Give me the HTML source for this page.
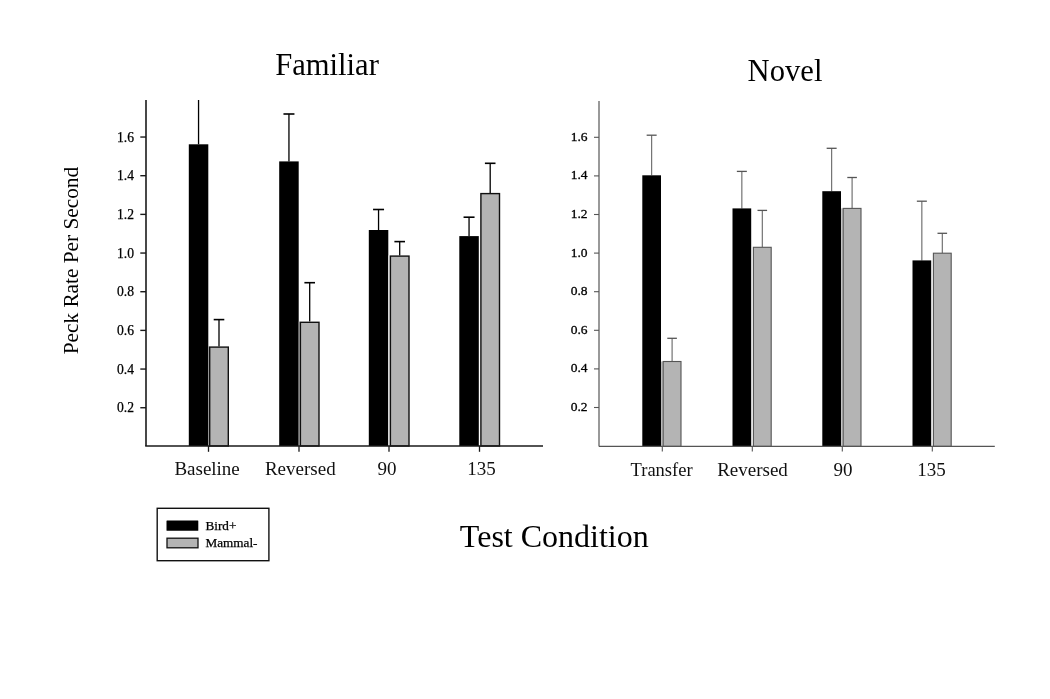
<!DOCTYPE html>
<html><head><meta charset="utf-8"><title>Peck Rate Per Second</title>
<style>html,body{margin:0;padding:0;background:#fff;}body{width:1050px;height:699px;overflow:hidden;}svg{display:block;}</style>
</head><body>
<svg width="1050" height="699" viewBox="0 0 1050 699" font-family='"Liberation Serif", "Times New Roman", serif'>
<rect x="0" y="0" width="1050" height="699" fill="#fff"/>
<line x1="198.55" y1="100.00" x2="198.55" y2="144.30" stroke="#000" stroke-width="1.3"/>
<rect x="188.80" y="144.30" width="19.50" height="301.70" fill="#000"/>
<rect x="208.30" y="346.40" width="0.70" height="99.60" fill="#8a8a8a"/>
<line x1="219.00" y1="319.60" x2="219.00" y2="346.40" stroke="#000" stroke-width="1.3"/>
<line x1="213.70" y1="319.60" x2="224.30" y2="319.60" stroke="#000" stroke-width="1.6"/>
<rect x="209.70" y="347.10" width="18.60" height="98.90" fill="#b4b4b4" stroke="#111" stroke-width="1.4"/>
<line x1="288.95" y1="114.00" x2="288.95" y2="161.40" stroke="#000" stroke-width="1.3"/>
<line x1="283.45" y1="114.00" x2="294.45" y2="114.00" stroke="#000" stroke-width="1.6"/>
<rect x="279.20" y="161.40" width="19.50" height="284.60" fill="#000"/>
<rect x="298.70" y="321.60" width="1.00" height="124.40" fill="#9a9a9a"/>
<line x1="309.70" y1="282.70" x2="309.70" y2="321.60" stroke="#000" stroke-width="1.3"/>
<line x1="304.40" y1="282.70" x2="315.00" y2="282.70" stroke="#000" stroke-width="1.6"/>
<rect x="300.40" y="322.30" width="18.60" height="123.70" fill="#b4b4b4" stroke="#111" stroke-width="1.4"/>
<line x1="378.55" y1="209.50" x2="378.55" y2="230.00" stroke="#000" stroke-width="1.3"/>
<line x1="373.05" y1="209.50" x2="384.05" y2="209.50" stroke="#000" stroke-width="1.6"/>
<rect x="368.80" y="230.00" width="19.50" height="216.00" fill="#000"/>
<rect x="388.30" y="255.40" width="1.40" height="190.60" fill="#e6e6e6"/>
<line x1="399.70" y1="241.60" x2="399.70" y2="255.40" stroke="#000" stroke-width="1.3"/>
<line x1="394.40" y1="241.60" x2="405.00" y2="241.60" stroke="#000" stroke-width="1.6"/>
<rect x="390.40" y="256.10" width="18.60" height="189.90" fill="#b4b4b4" stroke="#111" stroke-width="1.4"/>
<line x1="469.05" y1="217.20" x2="469.05" y2="236.10" stroke="#000" stroke-width="1.3"/>
<line x1="463.55" y1="217.20" x2="474.55" y2="217.20" stroke="#000" stroke-width="1.6"/>
<rect x="459.30" y="236.10" width="19.50" height="209.90" fill="#000"/>
<line x1="490.20" y1="163.30" x2="490.20" y2="192.90" stroke="#000" stroke-width="1.3"/>
<line x1="484.90" y1="163.30" x2="495.50" y2="163.30" stroke="#000" stroke-width="1.6"/>
<rect x="480.90" y="193.60" width="18.60" height="252.40" fill="#b4b4b4" stroke="#111" stroke-width="1.4"/>
<line x1="146.0" y1="100.0" x2="146.0" y2="446.0" stroke="#1a1a1a" stroke-width="1.6"/>
<line x1="145.2" y1="446.0" x2="543.0" y2="446.0" stroke="#1a1a1a" stroke-width="1.6"/>
<line x1="140.3" y1="407.73" x2="146.0" y2="407.73" stroke="#1a1a1a" stroke-width="1.4"/>
<text x="134" y="412.23" font-size="13.6" text-anchor="end" fill="#000" stroke="#000" stroke-width="0.25">0.2</text>
<line x1="140.3" y1="369.06" x2="146.0" y2="369.06" stroke="#1a1a1a" stroke-width="1.4"/>
<text x="134" y="373.56" font-size="13.6" text-anchor="end" fill="#000" stroke="#000" stroke-width="0.25">0.4</text>
<line x1="140.3" y1="330.39" x2="146.0" y2="330.39" stroke="#1a1a1a" stroke-width="1.4"/>
<text x="134" y="334.89" font-size="13.6" text-anchor="end" fill="#000" stroke="#000" stroke-width="0.25">0.6</text>
<line x1="140.3" y1="291.72" x2="146.0" y2="291.72" stroke="#1a1a1a" stroke-width="1.4"/>
<text x="134" y="296.22" font-size="13.6" text-anchor="end" fill="#000" stroke="#000" stroke-width="0.25">0.8</text>
<line x1="140.3" y1="253.05" x2="146.0" y2="253.05" stroke="#1a1a1a" stroke-width="1.4"/>
<text x="134" y="257.55" font-size="13.6" text-anchor="end" fill="#000" stroke="#000" stroke-width="0.25">1.0</text>
<line x1="140.3" y1="214.38" x2="146.0" y2="214.38" stroke="#1a1a1a" stroke-width="1.4"/>
<text x="134" y="218.88" font-size="13.6" text-anchor="end" fill="#000" stroke="#000" stroke-width="0.25">1.2</text>
<line x1="140.3" y1="175.71" x2="146.0" y2="175.71" stroke="#1a1a1a" stroke-width="1.4"/>
<text x="134" y="180.21" font-size="13.6" text-anchor="end" fill="#000" stroke="#000" stroke-width="0.25">1.4</text>
<line x1="140.3" y1="137.04" x2="146.0" y2="137.04" stroke="#1a1a1a" stroke-width="1.4"/>
<text x="134" y="141.54" font-size="13.6" text-anchor="end" fill="#000" stroke="#000" stroke-width="0.25">1.6</text>
<line x1="208.5" y1="446.0" x2="208.5" y2="451.8" stroke="#1a1a1a" stroke-width="1.3"/>
<line x1="299.0" y1="446.0" x2="299.0" y2="451.8" stroke="#1a1a1a" stroke-width="1.3"/>
<line x1="389.0" y1="446.0" x2="389.0" y2="451.8" stroke="#1a1a1a" stroke-width="1.3"/>
<line x1="479.5" y1="446.0" x2="479.5" y2="451.8" stroke="#1a1a1a" stroke-width="1.3"/>
<text x="207.1" y="475.3" font-size="19" text-anchor="middle" fill="#111">Baseline</text>
<text x="300.3" y="475.3" font-size="19" text-anchor="middle" fill="#111">Reversed</text>
<text x="386.9" y="475.3" font-size="19" text-anchor="middle" fill="#111">90</text>
<text x="481.5" y="475.3" font-size="19" text-anchor="middle" fill="#111">135</text>
<line x1="651.65" y1="135.20" x2="651.65" y2="175.30" stroke="#666" stroke-width="1.1"/>
<line x1="646.65" y1="135.20" x2="656.65" y2="135.20" stroke="#555" stroke-width="1.3"/>
<rect x="642.30" y="175.30" width="18.70" height="271.10" fill="#000"/>
<rect x="661.00" y="361.50" width="2.20" height="84.90" fill="#b8b8b8"/>
<line x1="672.10" y1="338.30" x2="672.10" y2="361.50" stroke="#666" stroke-width="1.1"/>
<line x1="667.30" y1="338.30" x2="676.90" y2="338.30" stroke="#555" stroke-width="1.3"/>
<rect x="663.20" y="361.50" width="17.80" height="84.90" fill="#b4b4b4" stroke="#555" stroke-width="1.1"/>
<line x1="741.85" y1="171.40" x2="741.85" y2="208.40" stroke="#666" stroke-width="1.1"/>
<line x1="736.85" y1="171.40" x2="746.85" y2="171.40" stroke="#555" stroke-width="1.3"/>
<rect x="732.50" y="208.40" width="18.70" height="238.00" fill="#000"/>
<line x1="762.30" y1="210.40" x2="762.30" y2="247.30" stroke="#666" stroke-width="1.1"/>
<line x1="757.50" y1="210.40" x2="767.10" y2="210.40" stroke="#555" stroke-width="1.3"/>
<rect x="753.40" y="247.30" width="17.80" height="199.10" fill="#b4b4b4" stroke="#555" stroke-width="1.1"/>
<line x1="831.65" y1="148.30" x2="831.65" y2="191.20" stroke="#666" stroke-width="1.1"/>
<line x1="826.65" y1="148.30" x2="836.65" y2="148.30" stroke="#555" stroke-width="1.3"/>
<rect x="822.30" y="191.20" width="18.70" height="255.20" fill="#000"/>
<rect x="841.00" y="208.40" width="2.20" height="238.00" fill="#c4c4c4"/>
<line x1="852.10" y1="177.50" x2="852.10" y2="208.40" stroke="#666" stroke-width="1.1"/>
<line x1="847.30" y1="177.50" x2="856.90" y2="177.50" stroke="#555" stroke-width="1.3"/>
<rect x="843.20" y="208.40" width="17.80" height="238.00" fill="#b4b4b4" stroke="#555" stroke-width="1.1"/>
<line x1="921.85" y1="201.20" x2="921.85" y2="260.40" stroke="#666" stroke-width="1.1"/>
<line x1="916.85" y1="201.20" x2="926.85" y2="201.20" stroke="#555" stroke-width="1.3"/>
<rect x="912.50" y="260.40" width="18.70" height="186.00" fill="#000"/>
<line x1="942.30" y1="233.30" x2="942.30" y2="253.20" stroke="#666" stroke-width="1.1"/>
<line x1="937.50" y1="233.30" x2="947.10" y2="233.30" stroke="#555" stroke-width="1.3"/>
<rect x="933.40" y="253.20" width="17.80" height="193.20" fill="#b4b4b4" stroke="#555" stroke-width="1.1"/>
<line x1="599.0" y1="101.0" x2="599.0" y2="446.4" stroke="#555" stroke-width="1.2"/>
<line x1="599.0" y1="446.4" x2="994.8" y2="446.4" stroke="#555" stroke-width="1.2"/>
<line x1="594" y1="407.50" x2="599.0" y2="407.50" stroke="#555" stroke-width="1.1"/>
<text x="587.5" y="410.90" font-size="13.5" text-anchor="end" fill="#000" stroke="#000" stroke-width="0.3">0.2</text>
<line x1="594" y1="368.90" x2="599.0" y2="368.90" stroke="#555" stroke-width="1.1"/>
<text x="587.5" y="372.30" font-size="13.5" text-anchor="end" fill="#000" stroke="#000" stroke-width="0.3">0.4</text>
<line x1="594" y1="330.30" x2="599.0" y2="330.30" stroke="#555" stroke-width="1.1"/>
<text x="587.5" y="333.70" font-size="13.5" text-anchor="end" fill="#000" stroke="#000" stroke-width="0.3">0.6</text>
<line x1="594" y1="291.70" x2="599.0" y2="291.70" stroke="#555" stroke-width="1.1"/>
<text x="587.5" y="295.10" font-size="13.5" text-anchor="end" fill="#000" stroke="#000" stroke-width="0.3">0.8</text>
<line x1="594" y1="253.10" x2="599.0" y2="253.10" stroke="#555" stroke-width="1.1"/>
<text x="587.5" y="256.50" font-size="13.5" text-anchor="end" fill="#000" stroke="#000" stroke-width="0.3">1.0</text>
<line x1="594" y1="214.50" x2="599.0" y2="214.50" stroke="#555" stroke-width="1.1"/>
<text x="587.5" y="217.90" font-size="13.5" text-anchor="end" fill="#000" stroke="#000" stroke-width="0.3">1.2</text>
<line x1="594" y1="175.90" x2="599.0" y2="175.90" stroke="#555" stroke-width="1.1"/>
<text x="587.5" y="179.30" font-size="13.5" text-anchor="end" fill="#000" stroke="#000" stroke-width="0.3">1.4</text>
<line x1="594" y1="137.30" x2="599.0" y2="137.30" stroke="#555" stroke-width="1.1"/>
<text x="587.5" y="140.70" font-size="13.5" text-anchor="end" fill="#000" stroke="#000" stroke-width="0.3">1.6</text>
<line x1="662.3" y1="446.4" x2="662.3" y2="451.5" stroke="#555" stroke-width="1.1"/>
<line x1="752.3" y1="446.4" x2="752.3" y2="451.5" stroke="#555" stroke-width="1.1"/>
<line x1="842.3" y1="446.4" x2="842.3" y2="451.5" stroke="#555" stroke-width="1.1"/>
<line x1="932.3" y1="446.4" x2="932.3" y2="451.5" stroke="#555" stroke-width="1.1"/>
<text x="661.6" y="475.6" font-size="18.5" text-anchor="middle" fill="#111">Transfer</text>
<text x="752.5" y="475.6" font-size="19" text-anchor="middle" fill="#111">Reversed</text>
<text x="843.1" y="475.6" font-size="19" text-anchor="middle" fill="#111">90</text>
<text x="931.6" y="475.6" font-size="19" text-anchor="middle" fill="#111">135</text>
<text x="327" y="74.6" font-size="30.6" text-anchor="middle" fill="#000">Familiar</text>
<text x="785" y="80.8" font-size="30.6" text-anchor="middle" fill="#000">Novel</text>
<text x="554.3" y="547" font-size="32" text-anchor="middle" fill="#000">Test Condition</text>
<text transform="translate(78,260.6) rotate(-90)" x="0" y="0" font-size="21.3" text-anchor="middle" fill="#000">Peck Rate Per Second</text>
<rect x="157.2" y="508.3" width="111.7" height="52.4" fill="#fff" stroke="#111" stroke-width="1.4"/>
<rect x="166.5" y="520.4" width="31.8" height="10.3" fill="#000" rx="0.5"/>
<rect x="167" y="538.2" width="31" height="9.6" fill="#b4b4b4" stroke="#111" stroke-width="1.3"/>
<text x="205.5" y="529.7" font-size="13.2" fill="#000" stroke="#000" stroke-width="0.25">Bird+</text>
<text x="205.5" y="547" font-size="13.2" fill="#000" stroke="#000" stroke-width="0.25">Mammal-</text>
</svg>
</body></html>
